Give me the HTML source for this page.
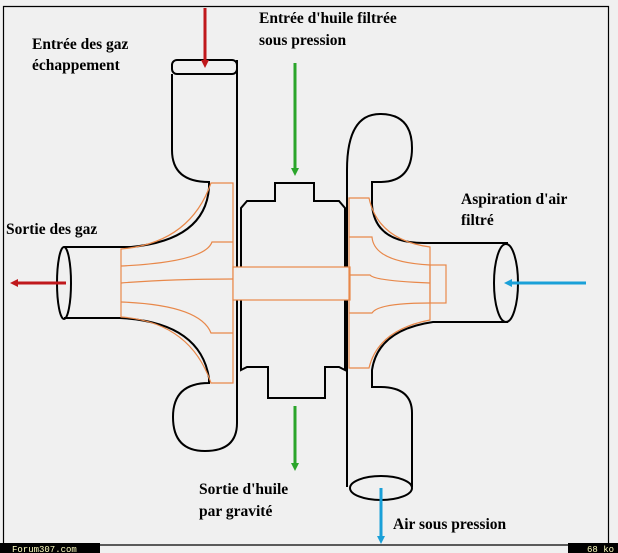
<!DOCTYPE html>
<html><head><meta charset="utf-8"><style>
html,body{margin:0;padding:0;background:#f0f0f0;width:618px;height:553px;overflow:hidden}
svg{display:block}
text{font-family:"Liberation Serif",serif;font-weight:bold;font-size:15.5px;fill:#000}
</style></head><body>
<svg width="618" height="553" viewBox="0 0 618 553" xmlns="http://www.w3.org/2000/svg">
<defs>
<marker id="hr" markerWidth="8" markerHeight="8" refX="4" refY="4" orient="auto" markerUnits="userSpaceOnUse"><path d="M0,0 L8,4 L0,8 z" fill="#c0181c"/></marker>
<marker id="hg" markerWidth="8" markerHeight="8" refX="4" refY="4" orient="auto" markerUnits="userSpaceOnUse"><path d="M0,0 L8,4 L0,8 z" fill="#2aa52a"/></marker>
<marker id="hb" markerWidth="8" markerHeight="8" refX="4" refY="4" orient="auto" markerUnits="userSpaceOnUse"><path d="M0,0 L8,4 L0,8 z" fill="#1aa0d8"/></marker>
</defs>
<rect x="0" y="0" width="618" height="553" fill="#f0f0f0"/>
<path d="M3.5,546 V6.5 H608.5 V546" fill="none" stroke="#000" stroke-width="1.2"/>
<line x1="0" y1="545" x2="618" y2="545" stroke="#000" stroke-width="1.2"/>
<rect x="0" y="543" width="100" height="10" fill="#000"/>
<rect x="568" y="543" width="50" height="10" fill="#000"/>
<text x="12" y="552" style="font-family:'Liberation Mono',monospace;font-weight:normal;font-size:9px;fill:#ffffc0">Forum307.com</text>
<text x="587" y="552" style="font-family:'Liberation Mono',monospace;font-weight:normal;font-size:9px;fill:#ffffc0">68 ko</text>

<g fill="none" stroke="#000" stroke-width="2">
<rect x="172" y="60" width="65" height="14" rx="5"/>
<path d="M172,74 V150 Q172,182 209,182 V188"/>
<path d="M237,60 V423 Q237,451 205,451 Q173,451 173,417 Q173,383 209,383 V378"/>
<ellipse cx="64" cy="283" rx="7" ry="36"/>
<path d="M64,247 H131 Q205,240 209,188"/>
<path d="M64,318 H120 Q200,322 209,378"/>
<path d="M241,370 V208 L247,201 H275 V183 H314 V201 H339 L345,208 V370 L339,367 H325 V398 H268 V367 H247 Z"/>
<path d="M347,487 V170 Q347,114 380,114 Q412,114 412,148 Q412,182 380,182 H372 V205 Q375,243 424,243 H508"/>
<ellipse cx="506" cy="283" rx="12" ry="39"/>
<path d="M508,322 H433 Q378,330 372,370 V387 H380 Q412,387 412,413 V487"/>
<ellipse cx="381" cy="488" rx="31" ry="12"/>
</g>

<g fill="none" stroke="#e8884a" stroke-width="1.2">
<path d="M121,249 Q190,243 211,183 H233 V383 H211 Q190,322 121,317 Z"/>
<path d="M233,242 H212 Q205,262 121,266"/>
<path d="M233,279 Q170,279 121,283"/>
<path d="M233,333 H211 Q200,305 121,302"/>
<rect x="233" y="267" width="117" height="33" fill="#f0f0f0"/>
<path d="M349,198 H369 Q378,240 430,247 V320 Q378,330 369,368 H349 Z"/>
<rect x="430" y="265" width="16" height="38"/>
<path d="M349,237 H372 Q374,262 430,265"/>
<path d="M349,275 H370 Q375,281 430,283"/>
<path d="M349,313 H372 Q378,303 430,303"/>
</g>

<g stroke-width="3">
<line x1="205" y1="8" x2="205" y2="64" stroke="#c0181c" marker-end="url(#hr)"/>
<line x1="66" y1="283" x2="14" y2="283" stroke="#c0181c" marker-end="url(#hr)"/>
<line x1="295" y1="63" x2="295" y2="172" stroke="#2aa52a" marker-end="url(#hg)"/>
<line x1="295" y1="406" x2="295" y2="467" stroke="#2aa52a" marker-end="url(#hg)"/>
<line x1="586" y1="283" x2="508" y2="283" stroke="#1aa0d8" marker-end="url(#hb)"/>
<line x1="381" y1="488" x2="381" y2="540" stroke="#1aa0d8" marker-end="url(#hb)"/>
</g>

<text x="32" y="49">Entrée des gaz</text>
<text x="32" y="70">échappement</text>
<text x="259" y="23">Entrée d'huile filtrée</text>
<text x="259" y="45">sous pression</text>
<text x="6" y="234">Sortie des gaz</text>
<text x="461" y="204">Aspiration d'air</text>
<text x="461" y="225">filtré</text>
<text x="199" y="494">Sortie d'huile</text>
<text x="199" y="516">par gravité</text>
<text x="393" y="529">Air sous pression</text>
</svg>
</body></html>
